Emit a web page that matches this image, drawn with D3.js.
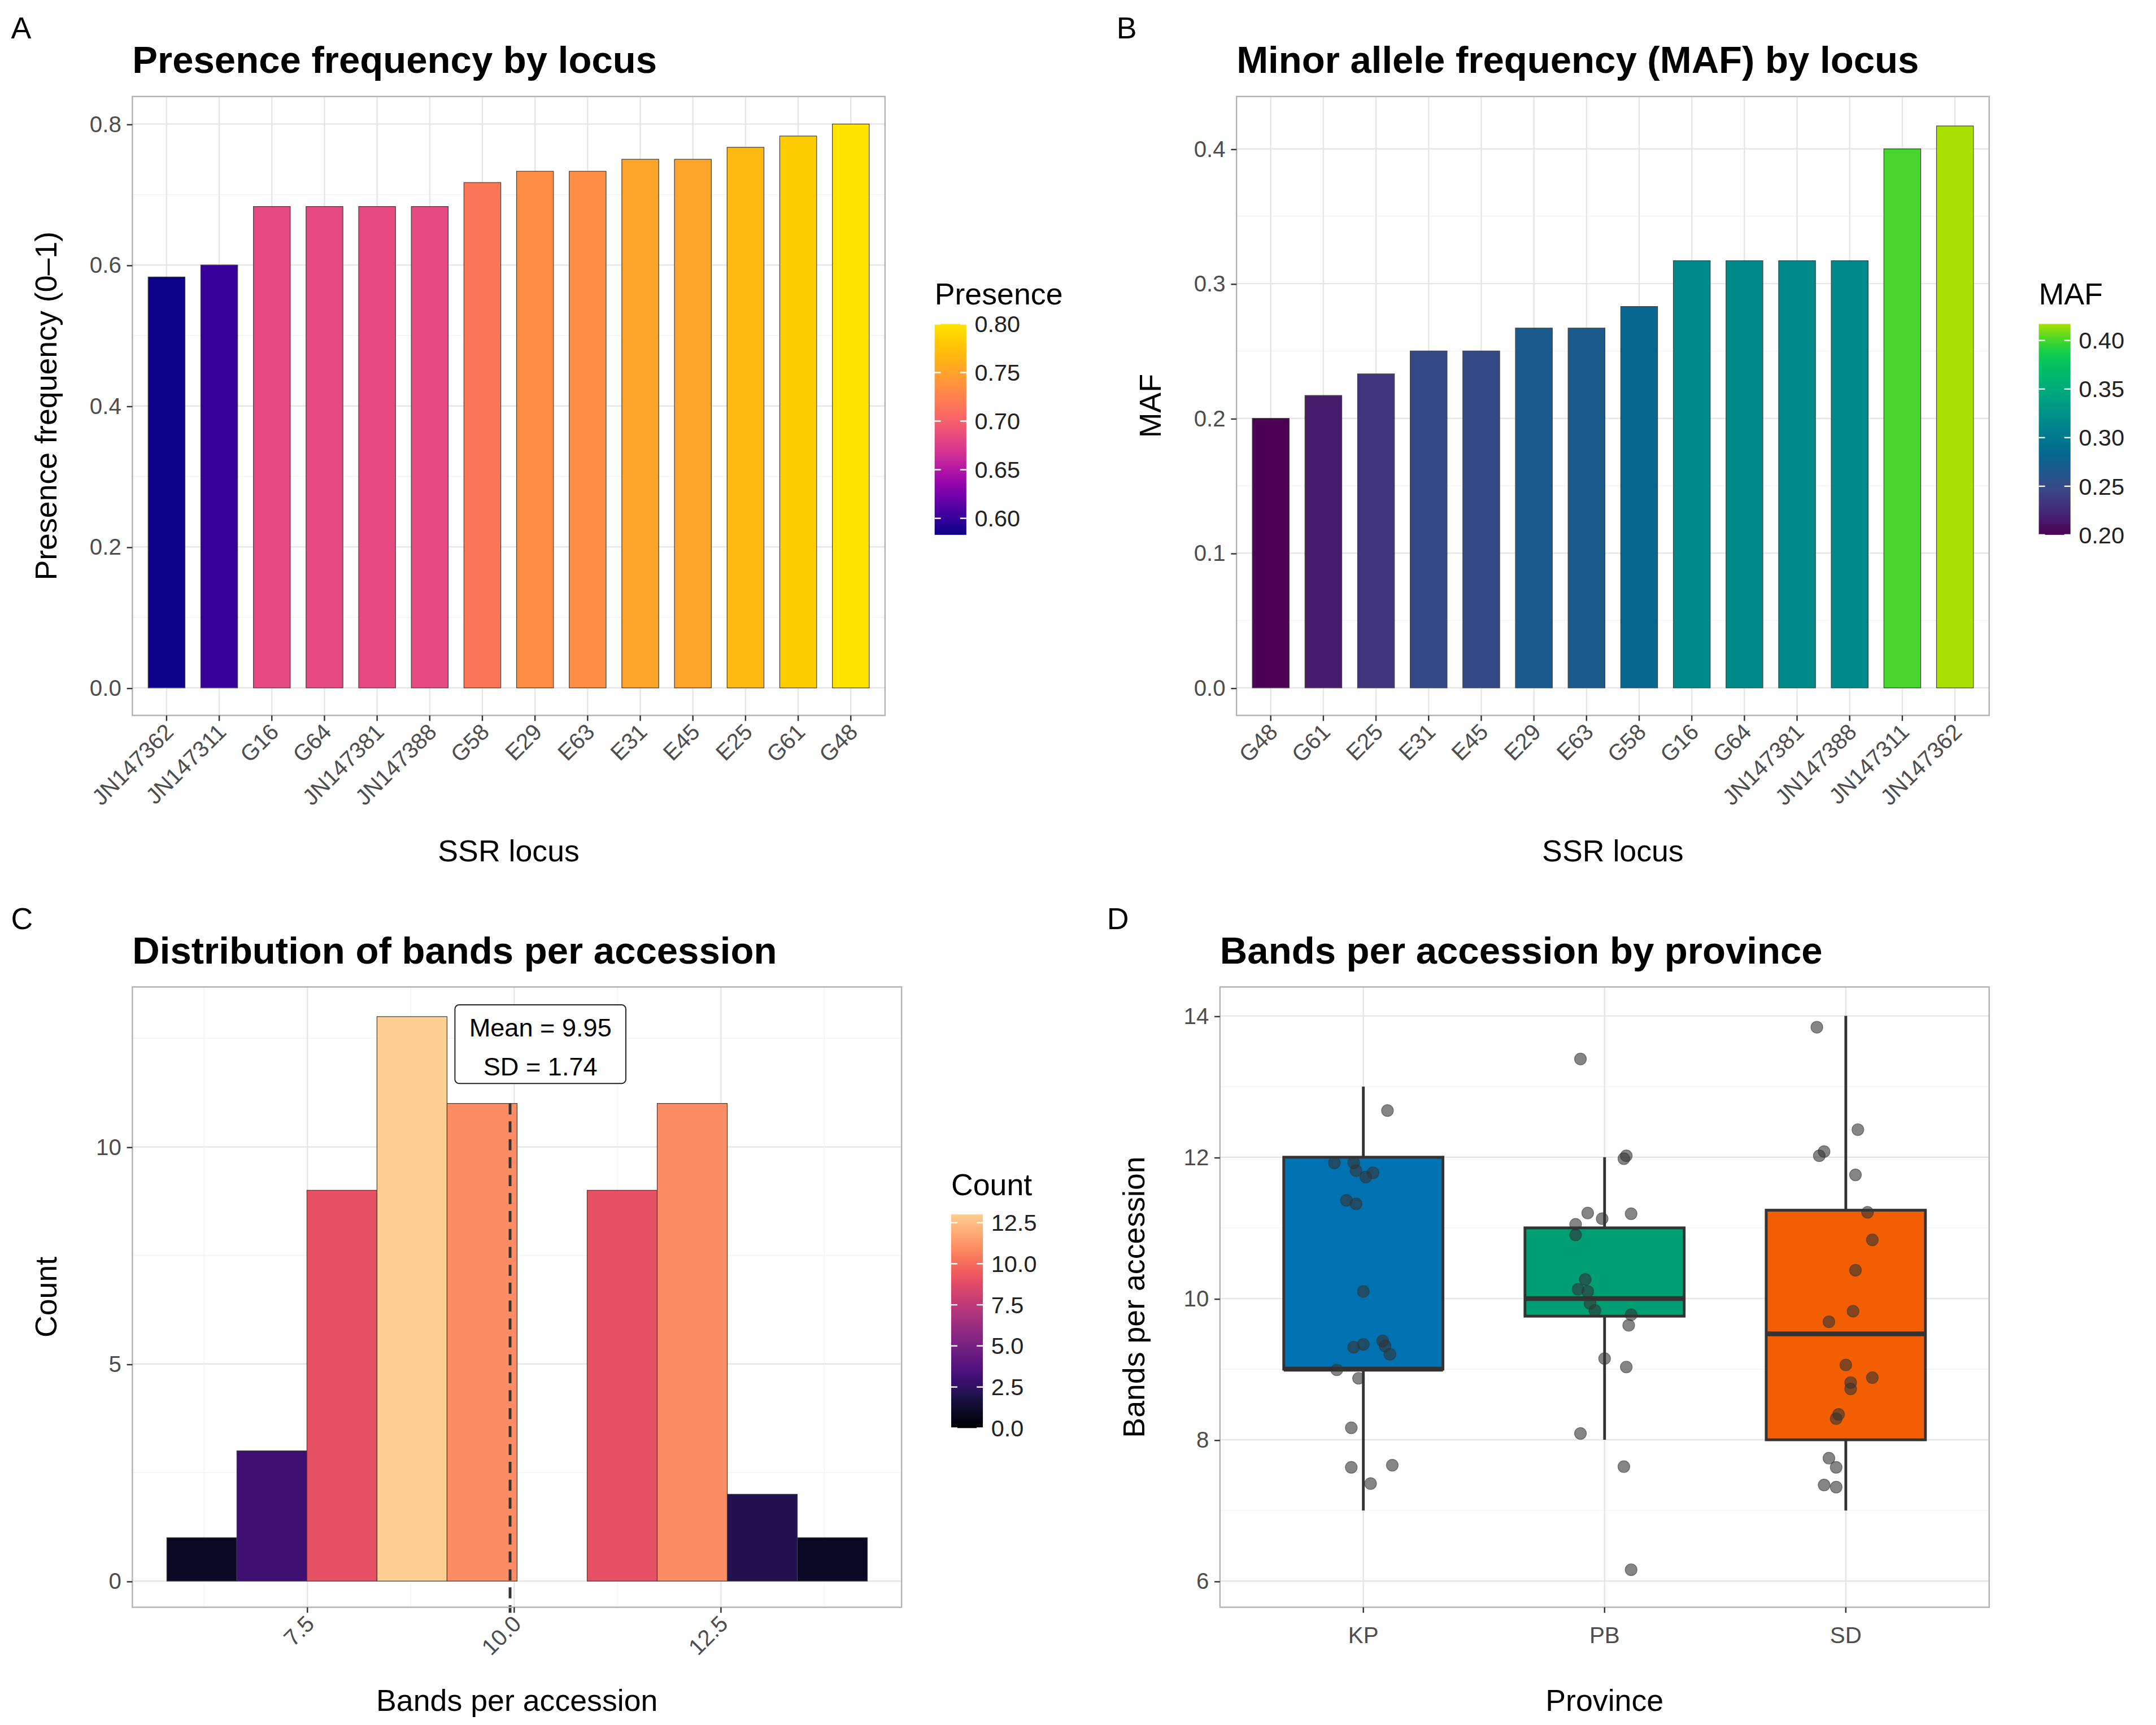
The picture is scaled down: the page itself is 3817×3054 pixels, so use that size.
<!DOCTYPE html>
<html><head><meta charset="utf-8">
<script src="https://cdn.jsdelivr.net/npm/d3@7"></script>
<style>body{margin:0;background:#fff}text{font-family:"Liberation Sans",Arial,sans-serif}</style>
</head><body><svg id="fig"></svg>
<script>
// ---- data ----
var presLoci = ["JN147362","JN147311","G16","G64","JN147381","JN147388","G58","E29","E63","E31","E45","E25","G61","G48"];
var presVals = [0.583,0.600,0.683,0.683,0.683,0.683,0.717,0.733,0.733,0.750,0.750,0.767,0.783,0.800];
var mafLoci = ["G48","G61","E25","E31","E45","E29","E63","G58","G16","G64","JN147381","JN147388","JN147311","JN147362"];
var mafVals = [0.200,0.217,0.233,0.250,0.250,0.267,0.267,0.283,0.317,0.317,0.317,0.317,0.400,0.417];
var binEdges = [5.8,6.647,7.494,8.341,9.188,10.035,10.882,11.729,12.576,13.423,14.27];
var binCounts = [1,3,9,13,11,0,9,11,2,1];
var bandMean = 9.95, bandSD = 1.74;
var provinces = ["KP","PB","SD"];
var provColors = ["#0072B2","#009E73","#F35F00"];
var boxLow = [7,8,7], boxQ1 = [9,9.75,8], boxMed = [9,10,9.5], boxQ3 = [12,11,11.25], boxHigh = [13,12,14];
var kpVals = [11.92,11.92,11.81,11.78,11.72,11.39,11.34,10.10,9.31,9.35,9.40,9.33,9.21,8.99,8.87,8.17,7.61,7.64,7.38,12.66];
var kpJit = [-0.12,-0.04,-0.03,0.04,0.01,-0.07,-0.03,0,-0.04,0,0.08,0.09,0.11,-0.11,-0.02,-0.05,-0.05,0.12,0.03,0.10];
var pbVals = [13.39,11.98,12.02,11.21,11.13,11.20,11.05,10.90,10.27,10.13,10.10,9.93,9.83,9.77,9.62,9.15,9.03,8.09,7.62,6.16];
var pbJit = [-0.10,0.08,0.09,-0.07,-0.01,0.11,-0.12,-0.12,-0.08,-0.11,-0.07,-0.06,-0.04,0.11,0.10,0,0.09,-0.10,0.08,0.11];
var sdVals = [13.84,12.39,12.08,12.02,11.75,11.22,10.83,10.40,9.82,9.67,9.06,8.88,8.81,8.72,8.36,8.30,7.74,7.61,7.36,7.33];
var sdJit = [-0.12,0.05,-0.09,-0.11,0.04,0.09,0.11,0.04,0.03,-0.07,0,0.11,0.02,0.02,-0.03,-0.04,-0.07,-0.04,-0.09,-0.04];

// palettes (colour stops, low -> high)
var plasmaStops = ["#0c0088","#5000a6","#9a00b0","#d02e96","#f25476","#ff7a55","#ff9e35","#ffbe00","#ffe400"];
var viridisStops = ["#4b0055","#45307a","#35508a","#00648f","#00818d","#009c85","#00b870","#00d04a","#a8e000"];
var magmaInterp = function(t){ return d3.interpolateMagma(t*0.9); };

var W = 1564, H = 1251.4;
var svg = d3.select("#fig").attr("width",3817).attr("height",3054).attr("viewBox","0 0 "+W+" "+H);
svg.append("rect").attr("width",W).attr("height",H).attr("fill","#fff");
var defs = svg.append("defs");

function txt(g,x,y,s,size,opt){
  opt = opt||{};
  return g.append("text").attr("x",x).attr("y",y).text(s).attr("font-size",size)
    .attr("fill",opt.fill||"#000").attr("font-weight",opt.bold?"bold":"normal")
    .attr("text-anchor",opt.anchor||"start").attr("transform",opt.rot||null);
}

function frame(x0,x1,y0,y1,tag,tagX,title,xt,yt,xtY){
  var g = svg.append("g");
  txt(g,tagX,y0-42,tag,22);
  txt(g,x0,y0-17,title,27.5,{bold:true});
  txt(g,(x0+x1)/2,xtY,xt,22,{anchor:"middle"});
  txt(g,0,0,yt,22,{anchor:"middle",rot:"translate("+(x0-55)+","+((y0+y1)/2)+") rotate(-90)"});
  return g;
}

function gridY(g,y,vals,x0,x1,minor){
  g.selectAll(null).data(vals).enter().append("line").attr("x1",x0).attr("x2",x1)
   .attr("y1",d=>y(d)).attr("y2",d=>y(d)).attr("stroke",minor?"#f3f3f3":"#e6e6e6").attr("stroke-width",minor?0.6:1);
}
function gridX(g,xs,y0,y1,minor){
  g.selectAll(null).data(xs).enter().append("line").attr("y1",y0).attr("y2",y1)
   .attr("x1",d=>d).attr("x2",d=>d).attr("stroke",minor?"#f3f3f3":"#e6e6e6").attr("stroke-width",minor?0.6:1);
}
function yAxis(g,y,x0,vals,fmt){
  var a = g.append("g").attr("transform","translate("+x0+",0)")
    .call(d3.axisLeft(y).tickValues(vals).tickFormat(fmt).tickSize(4).tickPadding(4));
  a.select(".domain").remove();
  a.selectAll(".tick line").attr("stroke","#333").attr("stroke-width",1);
  a.selectAll(".tick text").attr("font-size",16.5).attr("fill","#4d4d4d").attr("font-family","Liberation Sans, Arial");
}
function border(g,x0,x1,y0,y1){
  g.append("rect").attr("x",x0).attr("y",y0).attr("width",x1-x0).attr("height",y1-y0)
   .attr("fill","none").attr("stroke","#b3b3b3").attr("stroke-width",1);
}
function colorbar(x,yTop,yBot,scale,col,dom,ticks,fmt,title){
  var g = svg.append("g");
  txt(g,x,yTop-14,title,22);
  var id = "grad"+title.replace(/\W/g,"");
  var grad = defs.append("linearGradient").attr("id",id).attr("x1",0).attr("x2",0).attr("y1",1).attr("y2",0);
  d3.range(0,1.0001,0.025).forEach(function(t){
    grad.append("stop").attr("offset",t).attr("stop-color",col(dom[0]+t*(dom[1]-dom[0])));
  });
  g.append("rect").attr("x",x).attr("y",yTop).attr("width",23).attr("height",yBot-yTop).attr("fill","url(#"+id+")");
  ticks.forEach(function(v){
    var yy = scale(v);
    g.append("line").attr("x1",x).attr("x2",x+4.5).attr("y1",yy).attr("y2",yy).attr("stroke","#fff");
    g.append("line").attr("x1",x+18.5).attr("x2",x+23).attr("y1",yy).attr("y2",yy).attr("stroke","#fff");
    txt(g,x+29,yy+6,fmt(v),17,{fill:"#222"});
  });
}

function barPanel(x0,x1,tag,tagX,title,loci,vals,yTop,yTicks,yMinor,stops,yt,legTitle,legTicks){
  var y0=70,y1=519;
  var g = frame(x0,x1,y0,y1,tag,tagX,title,"SSR locus",yt,625);
  var x = d3.scaleBand().domain(loci).range([x0,x1]).padding(0.3);
  var y = d3.scaleLinear().domain([0,yTicks[yTicks.length-1]]).range([499,yTop]);
  var dom = d3.extent(vals);
  var col = d3.scaleSequential(d3.interpolateRgbBasis(stops)).domain(dom);
  gridY(g,y,yMinor,x0,x1,true);
  gridY(g,y,yTicks,x0,x1,false);
  gridX(g,loci.map(l=>x(l)+x.bandwidth()/2),y0,y1,false);
  g.selectAll(null).data(vals).enter().append("rect")
   .attr("x",(d,i)=>x(loci[i])).attr("width",x.bandwidth())
   .attr("y",d=>y(d)).attr("height",d=>y(0)-y(d))
   .attr("fill",d=>col(d)).attr("stroke","#404040").attr("stroke-width",0.5);
  border(g,x0,x1,y0,y1);
  yAxis(g,y,x0,yTicks,d3.format(".1f"));
  loci.forEach(function(l){
    var cx = x(l)+x.bandwidth()/2;
    g.append("line").attr("x1",cx).attr("x2",cx).attr("y1",y1).attr("y2",y1+4).attr("stroke","#333");
    txt(g,0,0,l,16.5,{fill:"#4d4d4d",anchor:"end",rot:"translate("+(cx+6)+","+(y1+13)+") rotate(-45)"});
  });
  var cy = d3.scaleLinear().domain(dom).range([388,235]);
  colorbar(x1+36,235,388,cy,col,dom,legTicks,d3.format(".2f"),legTitle);
}

barPanel(96,642,"A",8,"Presence frequency by locus",presLoci,presVals,90,[0,0.2,0.4,0.6,0.8],[0.1,0.3,0.5,0.7],
  plasmaStops,"Presence frequency (0\u20131)","Presence",[0.6,0.65,0.7,0.75,0.8]);
barPanel(897,1443,"B",810,"Minor allele frequency (MAF) by locus",mafLoci,mafVals,108,[0,0.1,0.2,0.3,0.4],[0.05,0.15,0.25,0.35],
  viridisStops,"MAF","MAF",[0.2,0.25,0.3,0.35,0.4]);

// ---- C histogram ----
(function(){
  var x0=96,x1=654,y0=716,y1=1166;
  var g = frame(x0,x1,y0,y1,"C",8,"Distribution of bands per accession","Bands per accession","Count",1241);
  var x = d3.scaleLinear().domain([7.5,12.5]).range([223,523]);
  var y = d3.scaleLinear().domain([0,10]).range([1147,832]);
  var col = d3.scaleSequential(magmaInterp).domain([0,13]);
  gridY(g,y,[2.5,7.5,12.5],x0,x1,true);
  gridY(g,y,[0,5,10],x0,x1,false);
  gridX(g,[6.25,8.75,11.25,13.75].map(x),y0,y1,true);
  gridX(g,[7.5,10,12.5].map(x),y0,y1,false);
  g.selectAll(null).data(binCounts).enter().append("rect")
   .attr("x",(d,i)=>x(binEdges[i])).attr("width",(d,i)=>x(binEdges[i+1])-x(binEdges[i]))
   .attr("y",d=>y(d)).attr("height",d=>y(0)-y(d))
   .attr("fill",d=>col(d)).attr("stroke","#404040").attr("stroke-width",0.5);
  g.append("line").attr("x1",x(bandMean)).attr("x2",x(bandMean)).attr("y1",y(11)).attr("y2",y1+4)
   .attr("stroke","#333").attr("stroke-width",2).attr("stroke-dasharray","8,5");
  border(g,x0,x1,y0,y1);
  yAxis(g,y,x0,[0,5,10],d3.format("d"));
  [7.5,10,12.5].forEach(function(v){
    g.append("line").attr("x1",x(v)).attr("x2",x(v)).attr("y1",y1).attr("y2",y1+4).attr("stroke","#333");
    txt(g,0,0,v.toFixed(1),16.5,{fill:"#4d4d4d",anchor:"end",rot:"translate("+(x(v)+6)+","+(y1+13)+") rotate(-45)"});
  });
  var lx = x(bandMean)+22;
  g.append("rect").attr("x",lx-62).attr("y",729).attr("width",124).attr("height",57).attr("rx",3)
   .attr("fill","#fff").attr("stroke","#222").attr("stroke-width",0.8);
  txt(g,lx,752,"Mean = "+bandMean.toFixed(2),18.5,{anchor:"middle"});
  txt(g,lx,780,"SD = "+bandSD.toFixed(2),18.5,{anchor:"middle"});
  var cy = d3.scaleLinear().domain([0,13]).range([1036,881]);
  colorbar(690,881,1036,cy,col,[0,13],[0,2.5,5,7.5,10,12.5],d3.format(".1f"),"Count");
})();

// ---- D boxplot ----
(function(){
  var x0=885,x1=1443,y0=716,y1=1166;
  var g = frame(x0,x1,y0,y1,"D",803,"Bands per accession by province","Province","Bands per accession",1241);
  var x = d3.scalePoint().domain(provinces).range([989,1339]);
  var y = d3.scaleLinear().domain([6,14]).range([1147,737]);
  var unit = x("PB")-x("KP");
  gridY(g,y,[7,9,11,13],x0,x1,true);
  gridY(g,y,[6,8,10,12,14],x0,x1,false);
  gridX(g,provinces.map(x),y0,y1,false);
  var hw = 0.33*unit;
  provinces.forEach(function(p,i){
    var cx = x(p);
    g.append("line").attr("x1",cx).attr("x2",cx).attr("y1",y(boxHigh[i])).attr("y2",y(boxLow[i])).attr("stroke","#333").attr("stroke-width",2);
    g.append("rect").attr("x",cx-hw).attr("width",2*hw).attr("y",y(boxQ3[i])).attr("height",y(boxQ1[i])-y(boxQ3[i]))
     .attr("fill",provColors[i]).attr("stroke","#333").attr("stroke-width",2);
    g.append("line").attr("x1",cx-hw).attr("x2",cx+hw).attr("y1",y(boxMed[i])).attr("y2",y(boxMed[i])).attr("stroke","#333").attr("stroke-width",3.5);
  });
  [[kpVals,kpJit],[pbVals,pbJit],[sdVals,sdJit]].forEach(function(s,i){
    g.selectAll(null).data(s[0]).enter().append("circle")
     .attr("cx",(d,j)=>x(provinces[i])+s[1][j]*unit).attr("cy",d=>y(d)).attr("r",4.3)
     .attr("fill","#333").attr("fill-opacity",0.6).attr("stroke","#333").attr("stroke-opacity",0.6).attr("stroke-width",0.5);
  });
  border(g,x0,x1,y0,y1);
  yAxis(g,y,x0,[6,8,10,12,14],d3.format("d"));
  provinces.forEach(function(p){
    g.append("line").attr("x1",x(p)).attr("x2",x(p)).attr("y1",y1).attr("y2",y1+4).attr("stroke","#333");
    txt(g,x(p),y1+26,p,16.5,{fill:"#4d4d4d",anchor:"middle"});
  });
})();
</script></body></html>
